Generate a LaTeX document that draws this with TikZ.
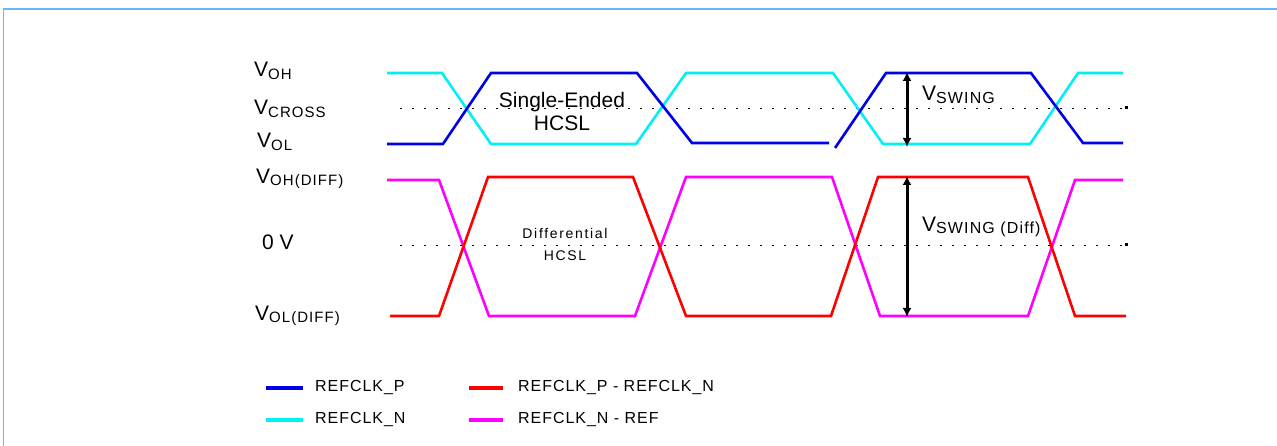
\documentclass[tikz,border=0pt]{standalone}
\usepackage{fontspec}
\setmainfont{Liberation Sans}
\usetikzlibrary{arrows.meta}
\newcommand{\vsub}[2][15]{V\raisebox{-2.5pt}{\fontsize{#1}{#1}\selectfont\addfontfeatures{LetterSpace=7}#2}}
\tikzset{
  sig/.style={line width=2.6pt, line join=miter},
  pcol/.style={sig, draw={rgb,255:red,0;green,0;blue,230}},
  ncol/.style={sig, draw={rgb,255:red,0;green,240;blue,245}},
  dcol/.style={sig, draw={rgb,255:red,255;green,0;blue,0}},
  mcol/.style={sig, draw={rgb,255:red,255;green,0;blue,255}},
  refline/.style={black, line width=0.9pt, dash pattern=on 2pt off 10pt},
  lvl/.style={anchor=west, inner sep=0pt, font=\fontsize{21}{21}\selectfont},
  swing/.style={line width=3pt, {Latex[length=9pt,width=9pt]}-{Latex[length=9pt,width=9pt]}},
  legtxt/.style={anchor=west, inner sep=0pt, font=\fontsize{16}{16}\selectfont\addfontfeatures{LetterSpace=6}},
  legline/.style={line width=4pt}
}
\begin{document}
\begin{tikzpicture}[x=1pt,y=-1pt]
\useasboundingbox (0,0) rectangle (1277,446);
% frame
\draw[draw={rgb,255:red,100;green,185;blue,240}, line width=2pt] (3,9) -- (1277,9);
\draw[draw={rgb,255:red,100;green,185;blue,240}, line width=0.8pt] (3,9) -- (3,446);

% level labels
\node[lvl] (voh) at (254,71) {\vsub{OH}};
\node[lvl] (vcross) at (254,109) {\vsub{CROSS}};
\node[lvl] (vol) at (257,142) {\vsub{OL}};
\node[lvl] (vohd) at (256,179) {\vsub{OH(DIFF)}};
\node[lvl] (zero) at (262,242) {0 V};
\node[lvl] (vold) at (255,316) {\vsub{OL(DIFF)}};

% dotted reference lines
\draw[refline] (400,108) -- (1126,108);
\fill (1124.5,106.5) rectangle (1127.5,109.5);
\draw[refline] (400,245) -- (1126,245);
\fill (1124.5,243.5) rectangle (1127.5,246.5);

% single-ended
\draw[ncol] (387,73) -- (442,73) -- (491,144) -- (636,144) -- (686,73) -- (833,73) -- (883,144) -- (1030,144) -- (1078,73) -- (1123,73);
\draw[pcol] (387,144) -- (443,144) -- (491,73) -- (637,73) -- (692,143) -- (829,143);
\draw[pcol] (835,148) -- (886,73) -- (1031,73) -- (1083,143) -- (1123,143);

% differential
\draw[mcol] (387,180) -- (439,180) -- (489,316) -- (635,316) -- (686,177) -- (832,177) -- (880,316) -- (1028,316) -- (1075,180) -- (1123,180);
\draw[dcol] (390,316) -- (439,316) -- (488,177) -- (633,177) -- (686,316) -- (831,316) -- (878,177) -- (1028,177) -- (1075,316) -- (1126,316);

% text labels
\node[align=center, inner sep=0pt, font=\fontsize{21}{23}\selectfont] (se) at (562,111) {Single-Ended\\HCSL};
\node[align=center, inner sep=0pt, font=\fontsize{14}{22}\selectfont\addfontfeatures{LetterSpace=12}] (dh) at (565,244) {Differential\\HCSL};

% swing arrows
\coordinate (s1t) at (907,72);
\coordinate (s1b) at (907,147);
\draw[swing] (s1t) -- (s1b);
\node[lvl] (vsw) at (922,95) {\vsub[16]{SWING}};
\coordinate (s2t) at (907,176);
\coordinate (s2b) at (907,317);
\draw[swing] (s2t) -- (s2b);
\node[lvl] (vswd) at (922,227) {\vsub[16]{SWING (Diff)}};

% legend
\draw[legline, draw={rgb,255:red,0;green,0;blue,230}] (266,388) -- (303,388);
\node[legtxt] (l1) at (315,388) {REFCLK\_P};
\draw[legline, draw={rgb,255:red,0;green,240;blue,245}] (266,420) -- (303,420);
\node[legtxt] (l2) at (315,420) {REFCLK\_N};
\draw[legline, draw={rgb,255:red,255;green,0;blue,0}] (469,388) -- (503,388);
\node[legtxt] (l3) at (518,388) {REFCLK\_P - REFCLK\_N};
\draw[legline, draw={rgb,255:red,255;green,0;blue,255}] (469,420) -- (503,420);
\node[legtxt] (l4) at (518,420) {REFCLK\_N - REF};
\end{tikzpicture}
\end{document}
